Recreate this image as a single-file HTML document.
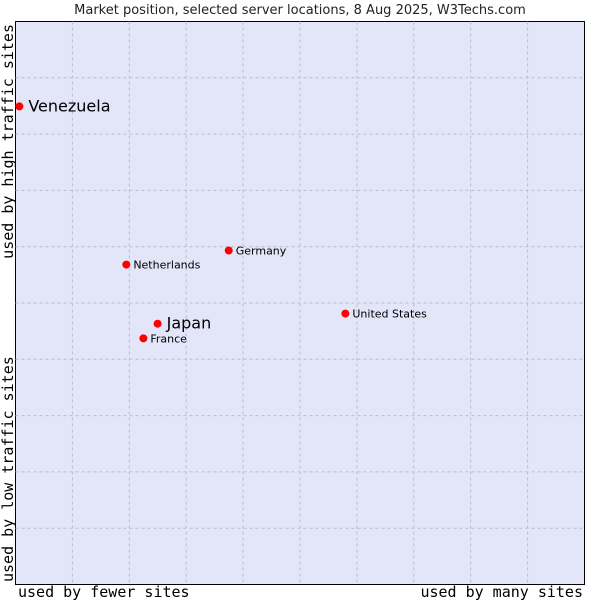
<!DOCTYPE html>
<html><head><meta charset="utf-8"><style>
body{margin:0;background:#fff;width:600px;height:600px;overflow:hidden}
svg text{font-family:"DejaVu Sans","Liberation Sans",sans-serif}
.mono{font-family:"DejaVu Sans Mono","Liberation Mono",monospace}
</style></head><body>
<svg id="chart" width="600" height="600">
<text x="300" y="14" text-anchor="middle" font-size="13" fill="#222">Market position, selected server locations, 8 Aug 2025, W3Techs.com</text>
<rect x="15.5" y="21.5" width="569" height="563" fill="#e3e5f9" stroke="#000"/>
<g id="grid"></g>
<g id="pts" transform="translate(1,1)"></g>
<text class="mono" x="18" y="597" font-size="15" fill="#000">used by fewer sites</text>
<text class="mono" x="583" y="597" font-size="15" fill="#000" text-anchor="end">used by many sites</text>
<text class="mono" transform="translate(13,582) rotate(-90)" font-size="15" fill="#000">used by low traffic sites</text>
<text class="mono" transform="translate(13,24) rotate(-90)" font-size="15" fill="#000" text-anchor="end">used by high traffic sites</text>
</svg>
<script>
const countries=["Venezuela","Netherlands","Germany","United States","Japan","France"];
const xValues=[0.5,19.3,37.3,57.8,24.8,22.3];
const yValues=[85.1,57.0,59.5,48.3,46.5,43.9];
const highlighted=[true,false,false,false,true,false];
const L=15.5,T=21.5,W=569,H=563;
const sx=v=>L+v/100*W, sy=v=>T+H-v/100*H;
const NS="http://www.w3.org/2000/svg";
const g=document.getElementById('grid');
for(let i=1;i<10;i++){
  const v=document.createElementNS(NS,'line');
  
  
  v.setAttribute('x1',sx(i*10));v.setAttribute('x2',sx(i*10));v.setAttribute('y1',T);v.setAttribute('y2',T+H);
  v.setAttribute('stroke','#bdbdc4');v.setAttribute('stroke-dasharray','3,3');g.appendChild(v);
  const h=document.createElementNS(NS,'line');
  
  
  h.setAttribute('y1',sy(i*10));h.setAttribute('y2',sy(i*10));h.setAttribute('x1',L);h.setAttribute('x2',L+W);
  h.setAttribute('stroke','#bdbdc4');h.setAttribute('stroke-dasharray','3,3');g.appendChild(h);
}
const p=document.getElementById('pts');
countries.forEach((c,i)=>{
  const x=sx(xValues[i]),y=sy(yValues[i]);
  const m=document.createElementNS(NS,'circle');
  
  
  m.setAttribute('cx',x);m.setAttribute('cy',y);m.setAttribute('r',4);m.setAttribute('fill','#f00');p.appendChild(m);
  const t=document.createElementNS(NS,'text');
  
  
  const big=highlighted[i];
  t.setAttribute('x',x+(big?9:7));t.setAttribute('y',y+(big?5:4));
  t.setAttribute('font-size',big?16:11);t.setAttribute('fill','#000');
  t.textContent=c;p.appendChild(t);
});
</script>
</body></html>
